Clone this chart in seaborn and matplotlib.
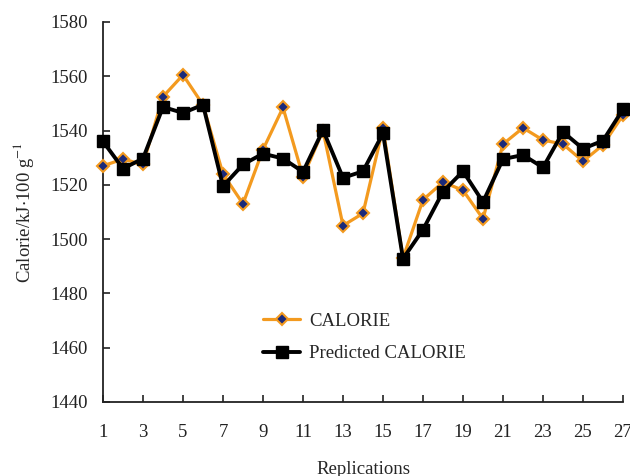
import matplotlib
matplotlib.use("Agg")
import matplotlib.pyplot as plt
import seaborn as sns
import pandas as pd

replications = list(range(1, 28))
calorie = [1527, 1529.5, 1527.5, 1552.5, 1560.5, 1549.5, 1524, 1513, 1533, 1548.5,
           1523, 1540, 1505, 1509.5, 1541, 1493, 1514.5, 1521, 1518, 1507.5,
           1535, 1541, 1536.5, 1535, 1528.7, 1534.7, 1545.7]
predicted = [1536, 1526, 1529.7, 1548.7, 1546.5, 1549.5, 1519.5, 1527.5, 1531.5, 1529.7,
             1524.8, 1540.2, 1522.6, 1525, 1539, 1492.8, 1503.5, 1517.5, 1525, 1513.7,
             1529.5, 1531, 1526.4, 1539.5, 1533.3, 1536.3, 1547.8]
xticks = list(range(1, 28, 2))
yticks = list(range(1440, 1581, 20))

df = pd.DataFrame({"Replications": replications, "CALORIE": calorie,
                   "Predicted CALORIE": predicted})

sns.set_theme(style="ticks")
plt.rcParams['font.family'] = ['Liberation Serif', 'DejaVu Serif']
plt.rcParams['mathtext.fontset'] = 'stix'

fig = plt.figure(figsize=(6.3, 4.76), dpi=100)
ax = fig.add_axes([103/630, 1-402/476, 520/630, 380/476])

orange = '#f39a1f'
sns.lineplot(data=df, x="Replications", y="CALORIE", ax=ax, color=orange, lw=2.3,
             marker='D', markersize=6.3, markerfacecolor='#1b2a7a',
             markeredgecolor=orange, markeredgewidth=1.5, label="CALORIE",
             clip_on=False, zorder=3)
sns.lineplot(data=df, x="Replications", y="Predicted CALORIE", ax=ax, color='black', lw=2.8,
             marker='s', markersize=9.3, markerfacecolor='black',
             markeredgecolor='black', markeredgewidth=1, label="Predicted CALORIE",
             clip_on=False, zorder=4)

ax.set_xlim(1, 27)
ax.set_ylim(1440, 1580)
ax.set_xticks(xticks)
ax.set_yticks(yticks)
ax.tick_params(axis='both', direction='in', length=5, width=1.2, labelsize=13.5, colors='#222222')
ax.tick_params(axis='x', pad=16)
ax.tick_params(axis='y', pad=11)
for s in ['top', 'right']:
    ax.spines[s].set_visible(False)
for s in ['left', 'bottom']:
    ax.spines[s].set_linewidth(1.3)
    ax.spines[s].set_color('#222222')

ax.set_xlabel("Replications", fontsize=13.5, labelpad=14)
ax.set_ylabel(r"Calorie/kJ$\cdot$100 g$^{-1}$", fontsize=13.5, labelpad=10)

leg = ax.legend(loc='upper left', bbox_to_anchor=(246/630, 1-296/476),
                bbox_transform=fig.transFigure, frameon=False, fontsize=13.5,
                handlelength=2.0, labelspacing=0.8, handletextpad=0.45)

fig.savefig("out.png", dpi=100)
